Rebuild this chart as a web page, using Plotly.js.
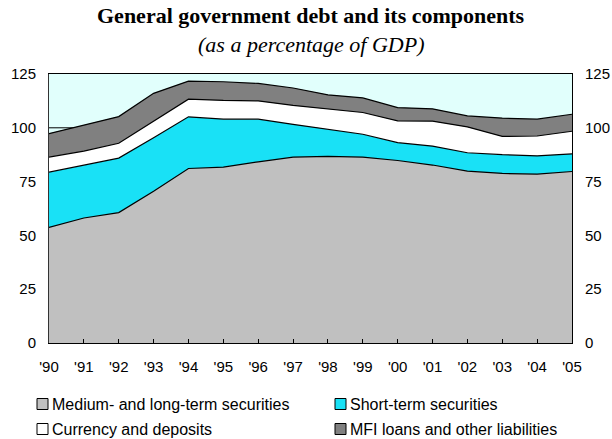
<!DOCTYPE html>
<html>
<head>
<meta charset="utf-8">
<script src="https://cdn.plot.ly/plotly-3.0.1.min.js"></script>
<style>html,body{margin:0;padding:0;background:#fff;}#chart{width:612px;height:439px;}</style>
</head>
<body>
<div id="chart"></div>
<script>
const years = [1990,1991,1992,1993,1994,1995,1996,1997,1998,1999,2000,2001,2002,2003,2004,2005];
const tickLabels = ["'90","'91","'92","'93","'94","'95","'96","'97","'98","'99","'00","'01","'02","'03","'04","'05"];
const seriesNames = ["Medium- and long-term securities","Short-term securities","Currency and deposits","MFI loans and other liabilities"];
const mediumLong = [53.7,58.1,60.6,70.5,81.1,81.7,84.2,86.4,86.7,86.4,84.8,82.7,79.9,78.8,78.5,79.7];
const shortTerm  = [25.7,24.4,25.3,24.9,24.0,22.3,19.8,15.2,12.6,10.6,8.3,8.8,8.5,8.7,8.5,8.2];
const currency   = [7.0,6.7,6.9,7.8,8.2,8.7,8.5,8.8,9.4,10.1,10.1,11.6,12.0,8.5,9.2,10.5];
const mfiLoans   = [10.9,12.0,12.4,12.8,8.4,8.7,8.1,8.1,6.6,6.8,6.2,5.7,5.1,8.5,7.8,7.9];
const yTicks = [0,25,50,75,100,125];

const colors = ["#c0c0c0","#19e1f6","#ffffff","#808080"];
const values = [mediumLong, shortTerm, currency, mfiLoans];

const traces = values.map((v,i)=>({
  x: years, y: v, name: seriesNames[i], type:'scatter', mode:'lines',
  stackgroup:'one', fillcolor: colors[i],
  line:{color:'#000000', width:1.2}, showlegend:false, hoverinfo:'skip'
}));
// right-axis companion (invisible) so the second axis is drawn
traces.push({x:[years[0]], y:[0], yaxis:'y2', type:'scatter', mode:'markers',
  marker:{opacity:0}, showlegend:false, hoverinfo:'skip'});

const shapes = [
  {type:'line', xref:'paper', yref:'y', x0:0, x1:1, y0:100, y1:100, layer:'below',
   line:{color:'#000', width:1}}
];
const serif = 'Liberation Serif, Times New Roman, serif';
const annotations = [
  {text:'<b>General government debt and its components</b>', xref:'paper', yref:'paper',
   x:0.5, y:1, xanchor:'center', yanchor:'middle', yshift:59, showarrow:false,
   font:{family:serif, size:22, color:'#000'}},
  {text:'<i>(as a percentage of GDP)</i>', xref:'paper', yref:'paper',
   x:0.5, y:1, xanchor:'center', yanchor:'middle', yshift:30, showarrow:false,
   font:{family:serif, size:22, color:'#000'}}
];
// legend (2 columns)
const legPos = [[37,404],[335,404],[37,429],[335,429]];
seriesNames.forEach((n,i)=>{
  const [px,py] = legPos[i];
  const xp = (px-49)/523, yp = (343-py)/269;
  const sx = 11/523, sy = 11/269;
  shapes.push({type:'rect', xref:'paper', yref:'paper', x0:xp, x1:xp+sx, y0:yp-sy/2, y1:yp+sy/2,
    fillcolor:colors[i], line:{color:'#000', width:1}});
  annotations.push({text:n, xref:'paper', yref:'paper', x:xp+sx, y:yp, xanchor:'left', yanchor:'middle',
    xshift:2, showarrow:false, font:{family:'Liberation Sans, Arial, sans-serif', size:16, color:'#000'}});
});

const axFont = {family:'Liberation Sans, Arial, sans-serif', size:15, color:'#000'};
const layout = {
  width:612, height:439,
  margin:{l:49, r:40, t:74, b:96, pad:0},
  paper_bgcolor:'#ffffff', plot_bgcolor:'#e1fffc',
  showlegend:false,
  xaxis:{range:[1990,2005], tickvals:years, ticktext:tickLabels, ticks:'inside', ticklen:4,
    tickcolor:'#000', showgrid:false, zeroline:false, showline:true, linecolor:'#000', linewidth:1.3,
    mirror:true, tickfont:axFont, ticklabelstandoff:10},
  yaxis:{range:[0,125], tickvals:yTicks, ticks:'', showgrid:false, zeroline:false,
    showline:true, linecolor:'#333', linewidth:1, mirror:true, tickfont:axFont, ticklabelstandoff:9},
  yaxis2:{range:[0,125], tickvals:yTicks, overlaying:'y', side:'right', ticks:'', showgrid:false,
    zeroline:false, showline:true, linecolor:'#000', linewidth:1, tickfont:axFont, ticklabelstandoff:9},
  shapes: shapes, annotations: annotations
};
Plotly.newPlot('chart', traces, layout, {displayModeBar:false, staticPlot:true});
</script>
</body>
</html>
